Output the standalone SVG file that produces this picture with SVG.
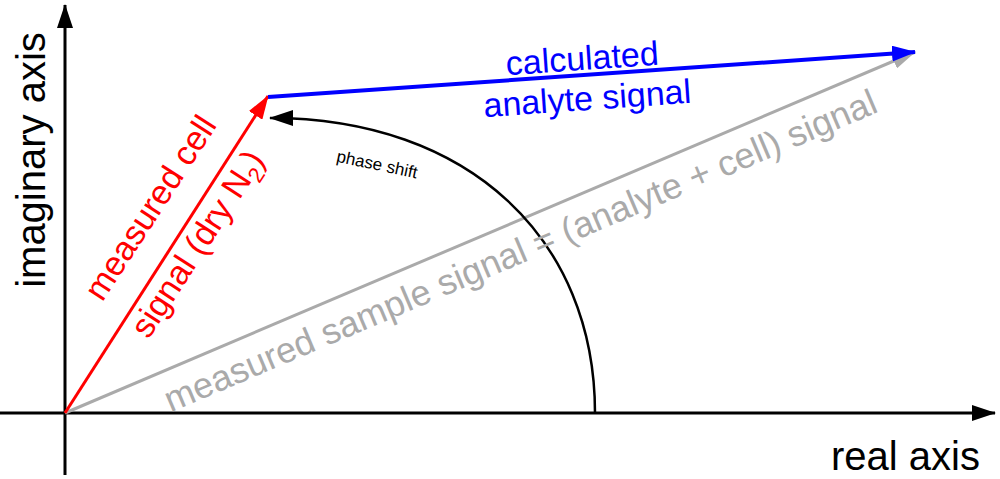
<svg xmlns="http://www.w3.org/2000/svg" width="1000" height="479" viewBox="0 0 1000 479">
<defs>
<marker id="aK" markerWidth="24" markerHeight="16" refX="23" refY="8" orient="auto" markerUnits="userSpaceOnUse" viewBox="0 0 24 16"><path d="M0,0L24,8L0,16z" fill="#000"/></marker>
<marker id="ar" markerWidth="24" markerHeight="16" refX="23" refY="8" orient="auto" markerUnits="userSpaceOnUse" viewBox="0 0 24 16"><path d="M0,0L24,8L0,16z" fill="#f00"/></marker>
<marker id="ab" markerWidth="24" markerHeight="16" refX="23" refY="8" orient="auto" markerUnits="userSpaceOnUse" viewBox="0 0 24 16"><path d="M0,0L24,8L0,16z" fill="#00f"/></marker>
<marker id="ag" markerWidth="24" markerHeight="16" refX="23" refY="8" orient="auto" markerUnits="userSpaceOnUse" viewBox="0 0 24 16"><path d="M0,0L24,8L0,16z" fill="#aaa"/></marker>
</defs>
<style>text{font-family:"Liberation Sans",Arial,sans-serif}.l{fill:none;stroke-width:3}</style>
<g id="connectors">
<line id="yaxis" x1="65" y1="475" x2="65" y2="5" stroke="#000" class="l" marker-end="url(#aK)"/>
<line id="xaxis" x1="0" y1="413" x2="995" y2="413" stroke="#000" class="l" marker-end="url(#aK)"/>
<line x1="65" y1="413" x2="915" y2="52" stroke="#aaa" class="l" marker-end="url(#ag)"/>
<line x1="65" y1="413" x2="268" y2="96" stroke="#f00" class="l" marker-end="url(#ar)"/>
<line x1="268" y1="97" x2="915" y2="52" stroke="#00f" stroke-width="4" fill="none" marker-end="url(#ab)"/>
<path d="M595,413 C595,240 470,118 270,118" stroke="#000" stroke-width="2.5" fill="none" marker-end="url(#aK)"/>
</g>
<g id="labels">
<text x="45" y="160" font-size="40" text-anchor="middle" transform="rotate(-90 45 160)">imaginary axis</text>
<text x="980" y="470" font-size="40" text-anchor="end">real axis</text>
<text x="160" y="214" font-size="34" fill="#f00" text-anchor="middle" transform="rotate(-57 160 214)">measured cell</text>
<text x="207" y="250" font-size="34" fill="#f00" text-anchor="middle" transform="rotate(-57 207 250)">signal (dry N<tspan font-size="22" dy="8">2</tspan><tspan dy="-8">)</tspan></text>
<text x="583" y="70" font-size="34" fill="#00f" text-anchor="middle" transform="rotate(-4 583 70)">calculated</text>
<text x="588" y="110" font-size="34" fill="#00f" text-anchor="middle" transform="rotate(-4 588 110)">analyte signal</text>
<text x="525" y="262" font-size="36" fill="#aaa" text-anchor="middle" transform="rotate(-23 525 262)">measured sample signal = (analyte + cell) signal</text>
<text x="376" y="170" font-size="17" text-anchor="middle" transform="rotate(12 376 170)">phase shift</text>
</g>
</svg>
